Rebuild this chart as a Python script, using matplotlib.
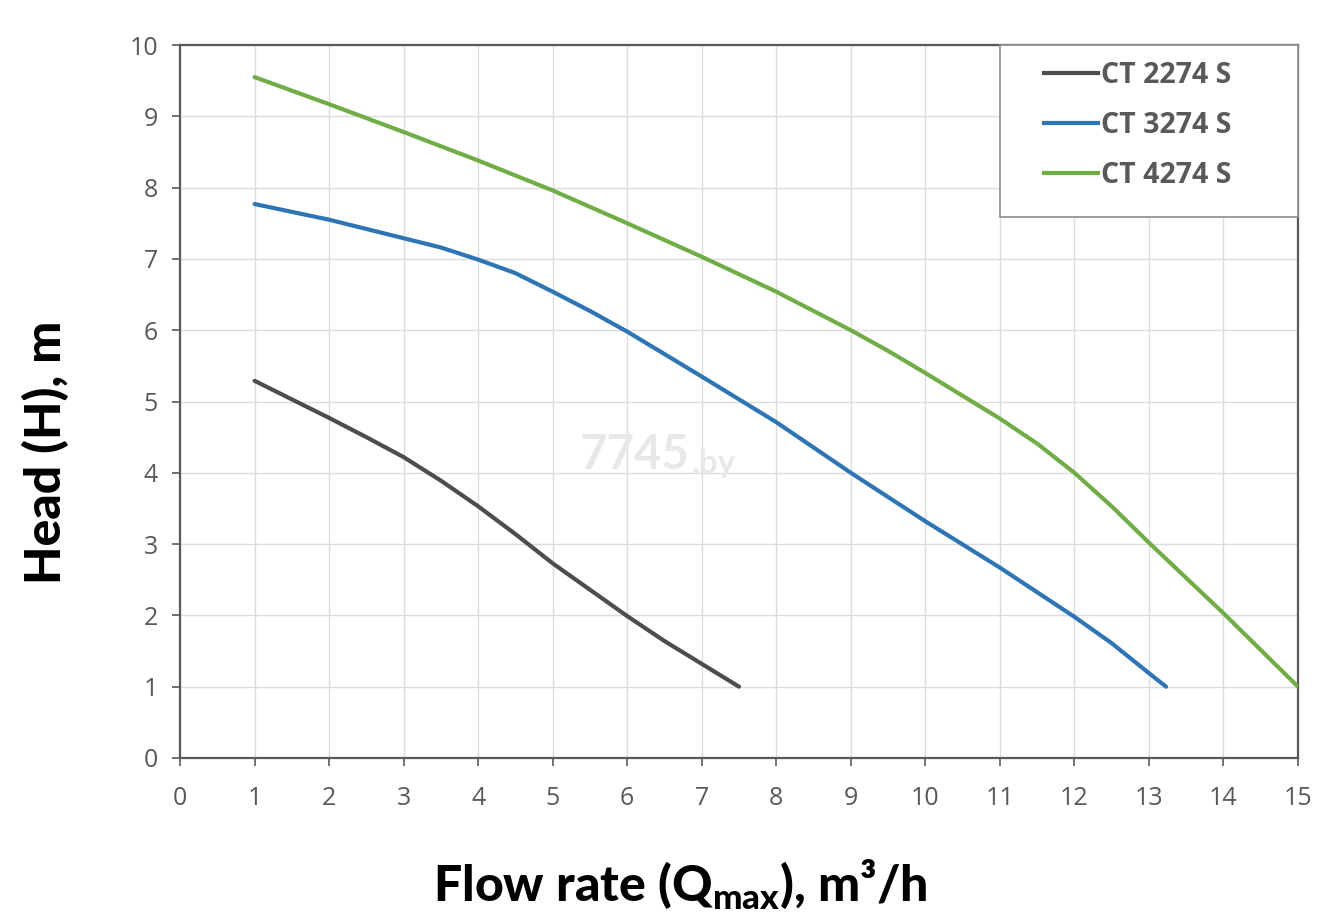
import matplotlib
matplotlib.use("Agg")
import matplotlib.pyplot as plt
from matplotlib.patches import Rectangle
from matplotlib.lines import Line2D

# Pump curves
flow_2274 = [1, 1.5, 2, 2.5, 3, 3.5, 4, 4.5, 5, 5.5, 6, 6.5, 7, 7.5]
head_2274 = [5.29, 5.03, 4.77, 4.50, 4.22, 3.89, 3.53, 3.14, 2.73, 2.36, 1.99, 1.64, 1.32, 1.0]

flow_3274 = [1, 2, 3, 3.5, 4, 4.5, 5, 5.5, 6, 7, 8, 9, 10, 11, 12, 12.5, 13, 13.23]
head_3274 = [7.77, 7.55, 7.29, 7.16, 6.99, 6.80, 6.54, 6.27, 5.98, 5.35, 4.71, 4.0, 3.32, 2.67, 1.98, 1.61, 1.19, 1.0]

flow_4274 = [1, 2, 3, 4, 5, 6, 7, 8, 9, 9.5, 10, 10.5, 11, 11.5, 12, 12.5, 13, 14, 15]
head_4274 = [9.55, 9.17, 8.78, 8.38, 7.96, 7.5, 7.03, 6.54, 6.0, 5.71, 5.4, 5.08, 4.76, 4.41, 4.0, 3.53, 3.02, 2.03, 1.0]

labels = ["CT 2274 S", "CT 3274 S", "CT 4274 S"]
colors = ["#4d4d4d", "#2e75b6", "#70ad47"]

x_ticks = list(range(0, 16))
y_ticks = list(range(0, 11))

plt.rcParams["mathtext.fontset"] = "custom"
plt.rcParams["mathtext.rm"] = "Lato:weight=black"
plt.rcParams["mathtext.bf"] = "Lato:weight=black"

fig = plt.figure(figsize=(13.21, 9.17), dpi=100)
ax = fig.add_axes([0.1363, 0.1734, 0.8463, 0.7775])

series = [(flow_2274, head_2274), (flow_3274, head_3274), (flow_4274, head_4274)]
for (x, y), c, lab in zip(series, colors, labels):
    ax.plot(x, y, color=c, linewidth=3, solid_capstyle="round",
            solid_joinstyle="round", label=lab, zorder=3)

ax.set_xlim(0, 15)
ax.set_ylim(0, 10)
ax.set_xticks(x_ticks)
ax.set_yticks(y_ticks)
ax.tick_params(axis="both", direction="out", length=6, width=1.2, color="#595959",
               labelsize=18, labelcolor="#595959")
ax.tick_params(axis="x", pad=14)
ax.tick_params(axis="y", pad=10)
for lab in ax.get_xticklabels() + ax.get_yticklabels():
    lab.set_family("Open Sans")
ax.grid(True, color="#dcdcdc", linewidth=1)
ax.set_axisbelow(True)
for sp in ax.spines.values():
    sp.set_color("#595959")
    sp.set_linewidth(1.6)

# watermark
ax.text(6.84, 4.25, "7745", fontsize=34, fontweight="bold", color="#e8e8e8",
        ha="right", va="center", family="Lato", zorder=1)
ax.text(6.86, 4.13, ".by", fontsize=24, fontweight="bold", color="#e8e8e8",
        ha="left", va="center", family="Lato", zorder=1)

# legend frame and entries
ax.add_patch(Rectangle((0.7335, 0.7588), 0.2665, 0.2412, transform=ax.transAxes,
                       facecolor="white", edgecolor="#8c8c8c", linewidth=1.2,
                       zorder=4, clip_on=False))
handles = [Line2D([], [], color=c, linewidth=3) for c in colors]
leg = ax.legend(handles, labels, loc="upper left", bbox_to_anchor=(0.7725, 0.978),
                frameon=False, borderpad=0, borderaxespad=0, handlelength=1.9,
                handletextpad=0.12, labelspacing=0.75,
                prop={"family": "Open Sans", "weight": "bold", "size": 20.5})
leg.set_zorder(5)
for t in leg.get_texts():
    t.set_color("#595959")

fig.text(0.034, 0.507, "Head (H), m", rotation=90, ha="center", va="center",
         fontsize=36, family="Lato", fontweight="black", color="black")
fig.text(0.515, 0.036, r"Flow rate (Q$_{\mathbf{max}}$), m³/h", ha="center", va="center",
         fontsize=36, family="Lato", fontweight="black", color="black")

fig.savefig("out.png", dpi=100)
